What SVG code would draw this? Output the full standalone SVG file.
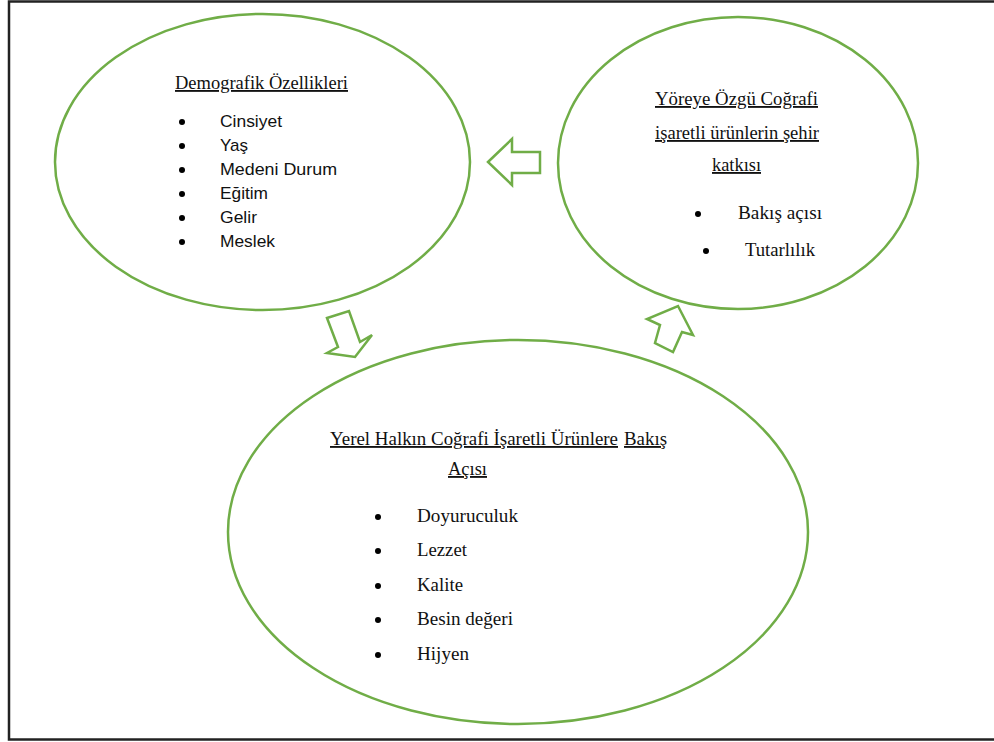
<svg xmlns="http://www.w3.org/2000/svg" width="994" height="742" viewBox="0 0 994 742">
<style>
.frame{fill:#fff;stroke:#222;stroke-width:2.5}
.ell{fill:none;stroke:#70AD47;stroke-width:2.5}
.arr{fill:#fff;stroke:#70AD47;stroke-width:2.5;stroke-linejoin:miter}
.ser{font-family:"Liberation Serif","Times New Roman",serif;font-size:18.5px;fill:#111}
.u{text-decoration:underline}
.sans{font-family:"Liberation Sans",Arial,sans-serif;font-size:17px;fill:#111}
.dot{fill:#000}
</style>
<rect class="frame" x="9" y="1.5" width="1000" height="738"/>
<g id="connectors">
<polygon class="arr" points="488,162 512,139 512,152 540,152 540,173 512,173 512,185"/>
<polygon class="arr" points="327,318 349,311 360,342 372,335 355,357 327,353 338,347"/>
<polygon class="arr" points="678,306 693,335 682,332 673,352 655,343 660,325 647,319"/>
</g>
<g id="demografik">
<ellipse class="ell" cx="262.5" cy="162" rx="207.5" ry="148"/>
<text class="ser u" x="175" y="89" textLength="173" lengthAdjust="spacingAndGlyphs">Demografik Özellikleri</text>
<circle class="dot" cx="182" cy="122" r="3"/>
<circle class="dot" cx="182" cy="146" r="3"/>
<circle class="dot" cx="182" cy="170" r="3"/>
<circle class="dot" cx="182" cy="194" r="3"/>
<circle class="dot" cx="182" cy="218" r="3"/>
<circle class="dot" cx="182" cy="242" r="3"/>
<text class="sans" x="220" y="127" textLength="62" lengthAdjust="spacingAndGlyphs">Cinsiyet</text>
<text class="sans" x="220" y="151">Yaş</text>
<text class="sans" x="220" y="175" textLength="117" lengthAdjust="spacingAndGlyphs">Medeni Durum</text>
<text class="sans" x="220" y="199" textLength="48" lengthAdjust="spacingAndGlyphs">Eğitim</text>
<text class="sans" x="220" y="223" textLength="37" lengthAdjust="spacingAndGlyphs">Gelir</text>
<text class="sans" x="220" y="247" textLength="55" lengthAdjust="spacingAndGlyphs">Meslek</text>
</g>
<g id="yoreye">
<ellipse class="ell" cx="738" cy="163" rx="180" ry="146"/>
<text class="ser u" x="655" y="105" textLength="163" lengthAdjust="spacingAndGlyphs">Yöreye Özgü Coğrafi</text>
<text class="ser u" x="655" y="139" textLength="164" lengthAdjust="spacingAndGlyphs">işaretli ürünlerin şehir</text>
<text class="ser u" x="712" y="171" textLength="49" lengthAdjust="spacingAndGlyphs">katkısı</text>
<circle class="dot" cx="698" cy="214" r="3"/>
<circle class="dot" cx="706" cy="251" r="3"/>
<text class="ser" x="738" y="219" textLength="84" lengthAdjust="spacingAndGlyphs">Bakış açısı</text>
<text class="ser" x="745" y="256" textLength="70" lengthAdjust="spacingAndGlyphs">Tutarlılık</text>
</g>
<g id="yerel">
<ellipse class="ell" cx="518" cy="532" rx="290" ry="192"/>
<text class="ser u" x="330" y="445" textLength="288" lengthAdjust="spacingAndGlyphs">Yerel Halkın Coğrafi İşaretli Ürünlere</text>
<text class="ser u" x="624" y="445" textLength="43" lengthAdjust="spacingAndGlyphs">Bakış</text>
<text class="ser u" x="448" y="475" textLength="39" lengthAdjust="spacingAndGlyphs">Açısı</text>
<circle class="dot" cx="378" cy="517" r="3"/>
<circle class="dot" cx="378" cy="551" r="3"/>
<circle class="dot" cx="378" cy="586" r="3"/>
<circle class="dot" cx="378" cy="620" r="3"/>
<circle class="dot" cx="378" cy="655" r="3"/>
<text class="ser" x="417" y="522" textLength="101" lengthAdjust="spacingAndGlyphs">Doyuruculuk</text>
<text class="ser" x="417" y="556" textLength="50" lengthAdjust="spacingAndGlyphs">Lezzet</text>
<text class="ser" x="417" y="591" textLength="46" lengthAdjust="spacingAndGlyphs">Kalite</text>
<text class="ser" x="417" y="625" textLength="96" lengthAdjust="spacingAndGlyphs">Besin değeri</text>
<text class="ser" x="417" y="660" textLength="52" lengthAdjust="spacingAndGlyphs">Hijyen</text>
</g>
</svg>
